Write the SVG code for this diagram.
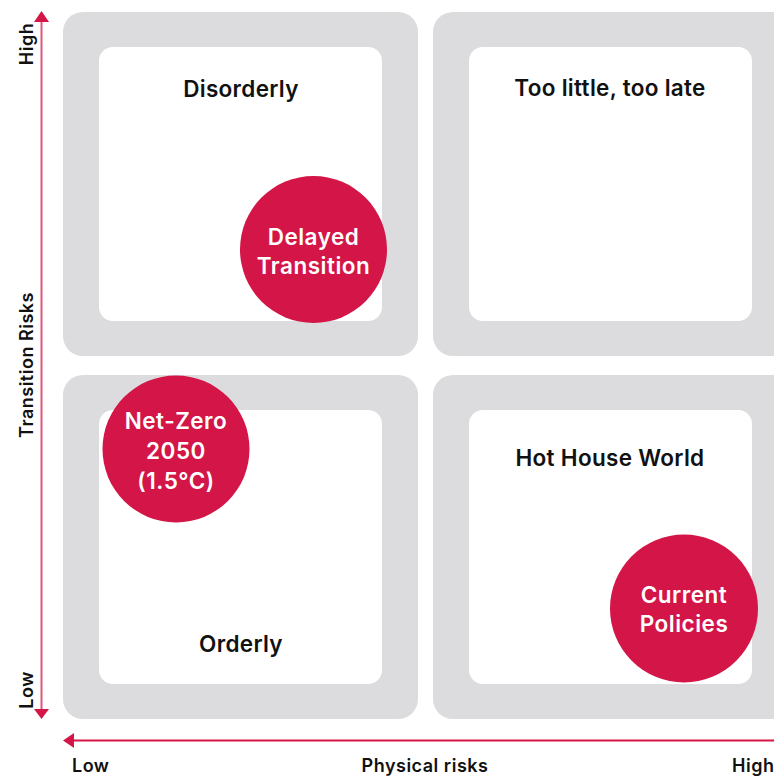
<svg xmlns="http://www.w3.org/2000/svg" width="774" height="776" viewBox="0 0 774 776">
<style>
.panel{fill:#dcdcde}
.inner{fill:#ffffff}
.bubble{fill:#d31547}
.title{font-family:Inter,"Liberation Sans",sans-serif;font-size:22.5px;font-weight:600;letter-spacing:0.3px;fill:#111;text-anchor:middle}
.btxt{font-family:Inter,"Liberation Sans",sans-serif;font-size:22.5px;font-weight:600;letter-spacing:0.5px;fill:#fff;text-anchor:middle}
.ax{font-family:Inter,"Liberation Sans",sans-serif;font-size:18px;font-weight:600;letter-spacing:0.5px;fill:#111}
</style>
<rect width="774" height="776" fill="#fff"/>
<g id="quadrant-disorderly">
<rect class="panel" x="63" y="12" width="355" height="344" rx="20"/>
<rect class="inner" x="99" y="47" width="283" height="274" rx="14"/>
<text class="title" x="241" y="97">Disorderly</text>
</g>
<g id="quadrant-too-little">
<rect class="panel" x="433" y="12" width="361" height="344" rx="20"/>
<rect class="inner" x="469" y="47" width="283" height="274" rx="14"/>
<text class="title" x="610" y="96">Too little, too late</text>
</g>
<g id="quadrant-orderly">
<rect class="panel" x="63" y="375" width="355" height="344" rx="20"/>
<rect class="inner" x="99" y="410" width="283" height="274" rx="14"/>
<text class="title" x="241" y="652">Orderly</text>
</g>
<g id="quadrant-hothouse">
<rect class="panel" x="433" y="375" width="361" height="344" rx="20"/>
<rect class="inner" x="469" y="410" width="283" height="274" rx="14"/>
<text class="title" x="610" y="466">Hot House World</text>
</g>
<g id="scenario-delayed">
<circle class="bubble" cx="313.5" cy="249.5" r="73.5"/>
<text class="btxt" x="313.5" y="245">Delayed</text>
<text class="btxt" x="313.5" y="274">Transition</text>
</g>
<g id="scenario-netzero">
<circle class="bubble" cx="176" cy="449" r="73.5"/>
<text class="btxt" x="176" y="429">Net-Zero</text>
<text class="btxt" x="176" y="459">2050</text>
<text class="btxt" x="176" y="489">(1.5°C)</text>
</g>
<g id="scenario-current">
<circle class="bubble" cx="684" cy="608.5" r="74"/>
<text class="btxt" x="684" y="603">Current</text>
<text class="btxt" x="684" y="632">Policies</text>
</g>
<g id="axes">
<line x1="41.5" y1="20" x2="41.5" y2="711" stroke="#e2577f" stroke-width="2"/>
<polygon points="41.5,11 34,22 49,22" fill="#d31547"/>
<polygon points="41.5,719 34,709 49,709" fill="#d31547"/>
<line x1="70" y1="740.5" x2="774" y2="740.5" stroke="#d31547" stroke-width="2"/>
<polygon points="63,740.5 74,733 74,748" fill="#d31547"/>
<text class="ax" transform="translate(33,44) rotate(-90)" text-anchor="middle">High</text>
<text class="ax" transform="translate(33,690) rotate(-90)" text-anchor="middle">Low</text>
<text class="ax" transform="translate(33,365) rotate(-90)" text-anchor="middle">Transition Risks</text>
<text class="ax" x="72" y="772">Low</text>
<text class="ax" x="425" y="772" text-anchor="middle">Physical risks</text>
<text class="ax" x="732" y="772">High</text>
</g>
</svg>
